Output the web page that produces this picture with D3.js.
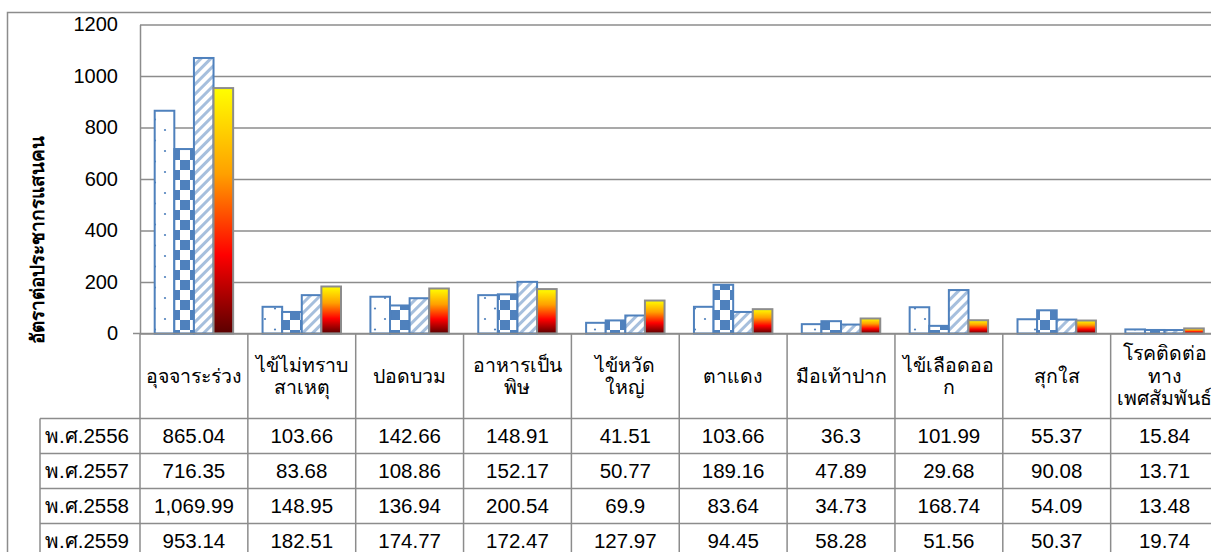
<!doctype html>
<html>
<head>
<meta charset="utf-8">
<script src="https://cdnjs.cloudflare.com/ajax/libs/d3/7.8.5/d3.min.js"></script>
<style>
  body { margin: 0; background: #fff; }
  text { font-family: Tahoma, "Liberation Sans", sans-serif; fill: #000; }
</style>
</head>
<body>
<svg></svg>
<script>
var width = 1211, height = 552;

// data
var categories = ["อุจจาระร่วง", "ไข้ไม่ทราบสาเหตุ", "ปอดบวม", "อาหารเป็นพิษ", "ไข้หวัดใหญ่",
                  "ตาแดง", "มือเท้าปาก", "ไข้เลือดออก", "สุกใส", "โรคติดต่อทางเพศสัมพันธ์"];
var categoryLines = [["อุจจาระร่วง"], ["ไข้ไม่ทราบ", "สาเหตุ"], ["ปอดบวม"], ["อาหารเป็น", "พิษ"], ["ไข้หวัด", "ใหญ่"],
                     ["ตาแดง"], ["มือเท้าปาก"], ["ไข้เลือดออ", "ก"], ["สุกใส"], ["โรคติดต่อ", "ทาง", "เพศสัมพันธ์"]];
var years = ["พ.ศ.2556", "พ.ศ.2557", "พ.ศ.2558", "พ.ศ.2559"];
var v2556 = [865.04, 103.66, 142.66, 148.91, 41.51, 103.66, 36.3, 101.99, 55.37, 15.84];
var v2557 = [716.35, 83.68, 108.86, 152.17, 50.77, 189.16, 47.89, 29.68, 90.08, 13.71];
var v2558 = [1069.99, 148.95, 136.94, 200.54, 69.9, 83.64, 34.73, 168.74, 54.09, 13.48];
var v2559 = [953.14, 182.51, 174.77, 172.47, 127.97, 94.45, 58.28, 51.56, 50.37, 19.74];
var yTicks = [0, 200, 400, 600, 800, 1000, 1200];
var yTitle = "อัตราต่อประชากรแสนคน";

var series = [v2556, v2557, v2558, v2559];
var fills = ["url(#dots)", "url(#checker)", "url(#stripes)", "url(#fire)"];
var strokes = ["#4f81bd", "#4f81bd", "#4f81bd", "#8c8c8c"];
var grey = "#8c8c8c";

var svg = d3.select("svg").attr("width", width).attr("height", height);

var left = 140, bandW = 107.85, zeroY = 333.5, topY = 24.5;
var rowTop = 418.5, rowH = 35;

var x = d3.scaleBand().domain(categories).range([left, left + bandW * categories.length]);
var xs = d3.scaleBand().domain(years).range([0, x.bandwidth()]).paddingOuter(0.75);
var y = d3.scaleLinear().domain([0, 1200]).range([zeroY, topY]);
var fmt = d3.format(",");

// patterns
var defs = svg.append("defs");
var p1 = defs.append("pattern").attr("id", "dots").attr("patternUnits", "userSpaceOnUse")
    .attr("width", 20).attr("height", 21);
p1.append("rect").attr("width", 20).attr("height", 21).attr("fill", "#fff");
p1.append("circle").attr("cx", 5).attr("cy", 4).attr("r", 1.1).attr("fill", "#4f81bd");
p1.append("circle").attr("cx", 15).attr("cy", 14.5).attr("r", 1.1).attr("fill", "#4f81bd");

var p2 = defs.append("pattern").attr("id", "checker").attr("patternUnits", "userSpaceOnUse")
    .attr("width", 20).attr("height", 20);
p2.append("rect").attr("width", 20).attr("height", 20).attr("fill", "#fff");
p2.append("rect").attr("width", 10).attr("height", 10).attr("fill", "#4f81bd");
p2.append("rect").attr("x", 10).attr("y", 10).attr("width", 10).attr("height", 10).attr("fill", "#4f81bd");

var p3 = defs.append("pattern").attr("id", "stripes").attr("patternUnits", "userSpaceOnUse")
    .attr("width", 7).attr("height", 7).attr("patternTransform", "rotate(45)");
p3.append("rect").attr("width", 7).attr("height", 7).attr("fill", "#fff");
p3.append("rect").attr("width", 3).attr("height", 7).attr("fill", "#a6bfdd");

var g4 = defs.append("linearGradient").attr("id", "fire")
    .attr("x1", 0).attr("y1", 0).attr("x2", 0).attr("y2", 1);
[[0, "#ffff00"], [0.35, "#ffa000"], [0.68, "#ff0000"], [1, "#5a0000"]].forEach(function(s) {
  g4.append("stop").attr("offset", s[0]).attr("stop-color", s[1]);
});

// chart border
svg.append("rect").attr("x", 7.5).attr("y", 12.5).attr("width", 1300).attr("height", 700)
    .attr("fill", "none").attr("stroke", grey).attr("stroke-width", 1.5);

// y axis + gridlines
var yAxis = svg.append("g").attr("transform", "translate(" + left + ",0)")
    .call(d3.axisLeft(y).tickValues(yTicks).tickFormat(d3.format("d"))
      .tickSize(7).tickSizeOuter(0).tickPadding(15));
yAxis.select(".domain").attr("stroke", grey).attr("stroke-width", 1.5);
yAxis.selectAll(".tick line").attr("x2", width).attr("stroke", grey).attr("stroke-width", 1.5);
yAxis.selectAll(".tick text").attr("font-size", 20).attr("font-family", null);

svg.append("text").attr("transform", "translate(44,240) rotate(-90)")
    .attr("text-anchor", "middle").attr("font-size", 19).attr("font-weight", "bold").text(yTitle);

// bars
series.forEach(function(vals, s) {
  svg.append("g").selectAll("rect").data(vals).enter().append("rect")
    .attr("x", function(d, i) { return x(categories[i]) + xs(years[s]); })
    .attr("y", function(d) { return y(d); })
    .attr("width", xs.bandwidth())
    .attr("height", function(d) { return zeroY - y(d); })
    .attr("fill", fills[s])
    .attr("stroke", strokes[s])
    .attr("stroke-width", 2);
});

// data table
var table = svg.append("g").attr("stroke", grey).attr("stroke-width", 1.5);
var bounds = categories.map(function(c) { return x(c); }).concat([x.range()[1]]);
table.selectAll("line.v").data(bounds).enter().append("line")
    .attr("x1", function(d) { return d; }).attr("x2", function(d) { return d; })
    .attr("y1", zeroY).attr("y2", rowTop + rowH * years.length);
table.append("line").attr("x1", 40).attr("x2", 40).attr("y1", rowTop).attr("y2", rowTop + rowH * years.length);
table.selectAll("line.h").data(d3.range(years.length + 1)).enter().append("line")
    .attr("x1", 40).attr("x2", x.range()[1])
    .attr("y1", function(d) { return rowTop + d * rowH; })
    .attr("y2", function(d) { return rowTop + d * rowH; });
table.append("line").attr("x1", left - 7).attr("x2", width).attr("y1", zeroY).attr("y2", zeroY);

var headMid = (zeroY + rowTop) / 2;
categoryLines.forEach(function(lines, i) {
  var t = svg.append("text").attr("text-anchor", "middle").attr("font-size", 19.5)
      .attr("x", x(categories[i]) + x.bandwidth() / 2);
  lines.forEach(function(l, k) {
    t.append("tspan").attr("x", x(categories[i]) + x.bandwidth() / 2)
      .attr("y", headMid + (k - (lines.length - 1) / 2) * 22.5)
      .attr("dy", "0.35em").text(l);
  });
});

years.forEach(function(yr, s) {
  var cy = rowTop + rowH * s + rowH / 2;
  svg.append("text").attr("x", 45).attr("y", cy).attr("dy", "0.35em")
    .attr("font-size", 20.5).text(yr);
  svg.append("g").selectAll("text").data(series[s]).enter().append("text")
    .attr("x", function(d, i) { return x(categories[i]) + x.bandwidth() / 2; })
    .attr("y", cy).attr("dy", "0.35em").attr("text-anchor", "middle")
    .attr("font-size", 20.5).text(function(d) { return fmt(d); });
});
</script>
</body>
</html>
